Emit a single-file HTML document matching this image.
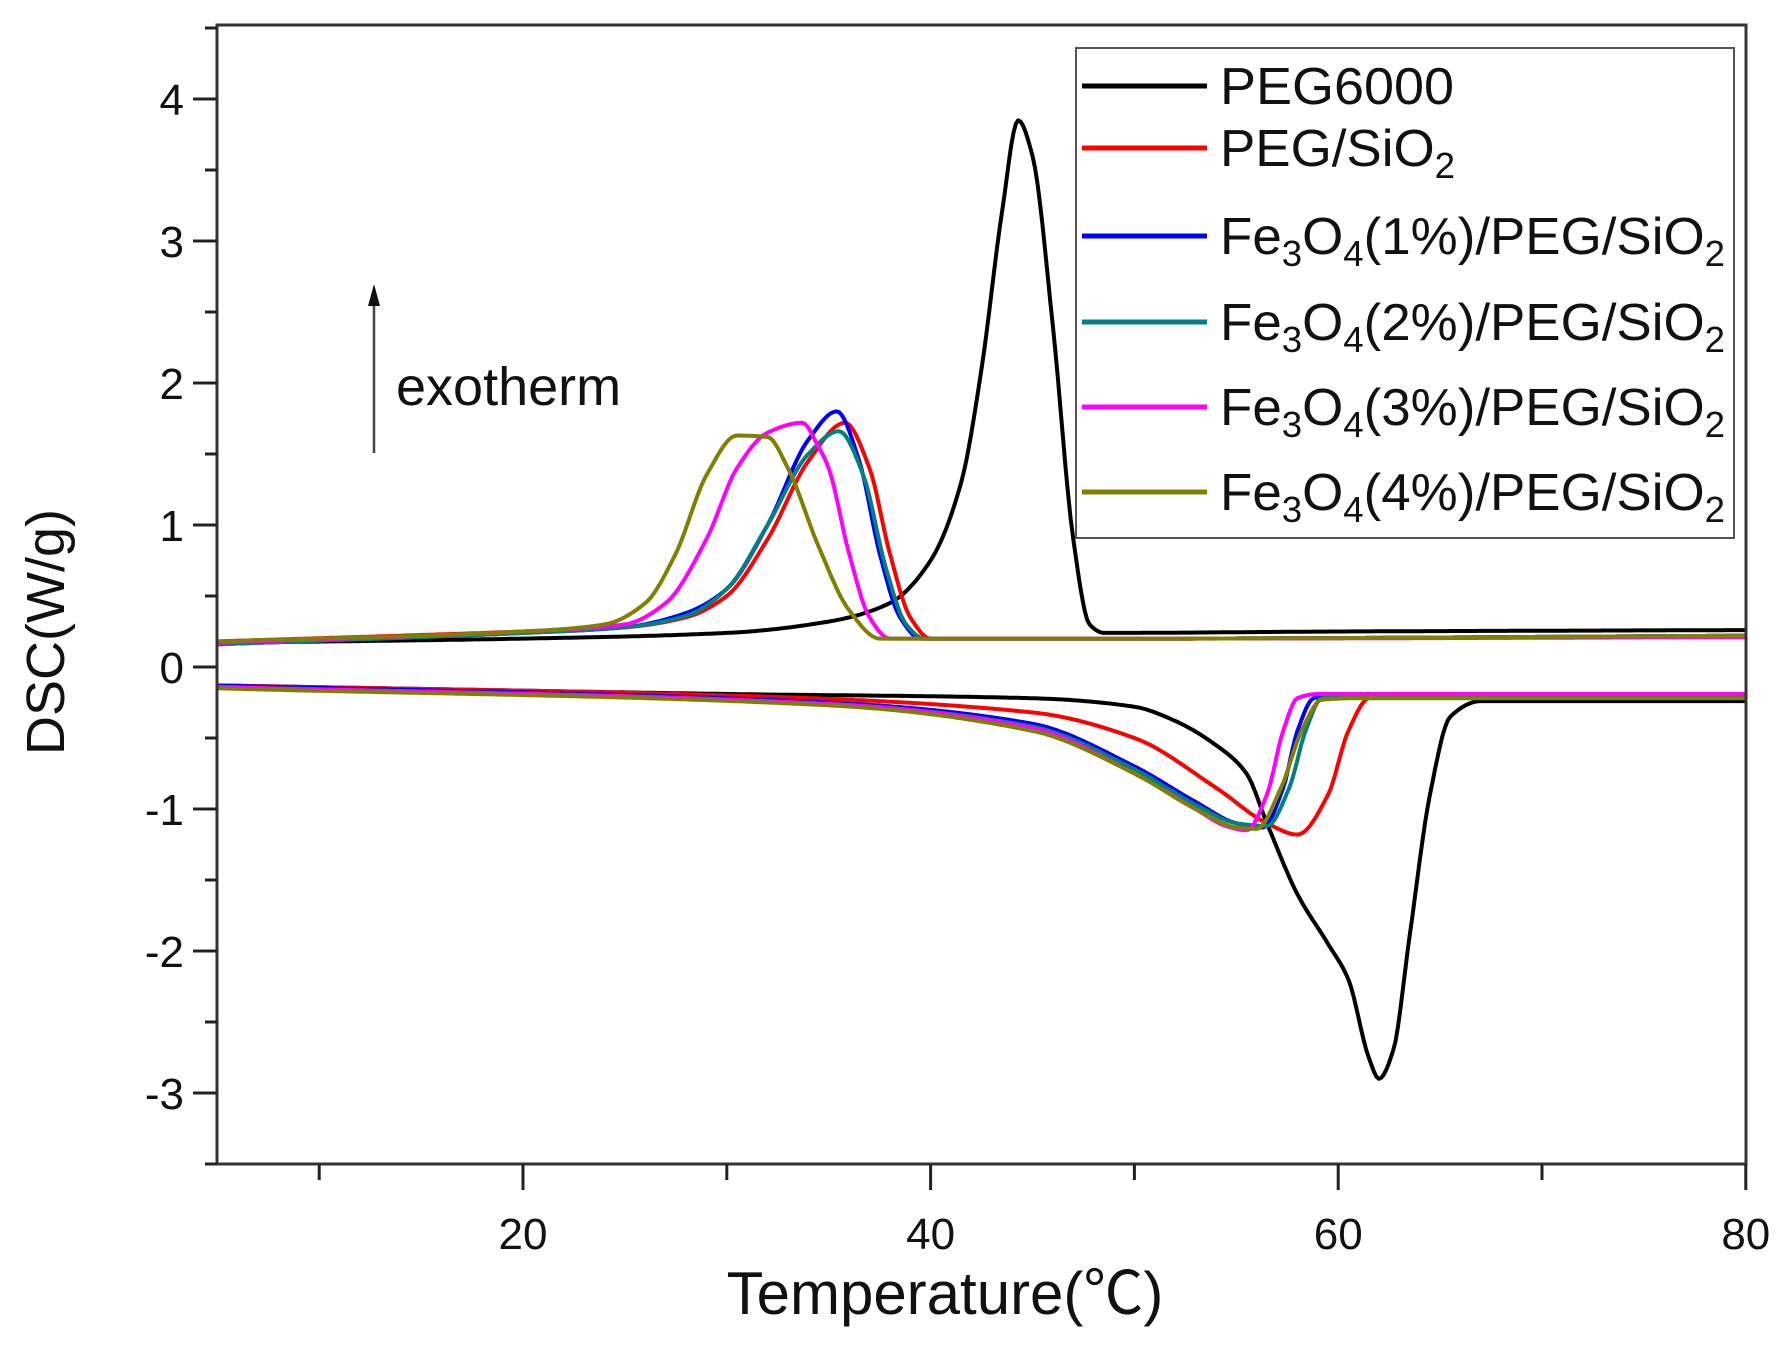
<!DOCTYPE html>
<html><head><meta charset="utf-8"><style>
html,body{margin:0;padding:0;background:#fff;}
svg{display:block;font-family:"Liberation Sans","Noto Sans CJK SC",sans-serif;}
</style></head><body>
<svg id="s" width="1781" height="1348" viewBox="0 0 1781 1348" xmlns="http://www.w3.org/2000/svg">
<rect width="1781" height="1348" fill="#fff"/>
<g id="curves" fill="none" stroke-width="4" stroke-linejoin="round"></g>
<rect x="217" y="25" width="1529" height="1139" fill="none" stroke="#333" stroke-width="3"/>
<g id="ticks" stroke="#222" stroke-width="3"></g>
<g font-size="44" fill="#111" id="labels"></g>
<text x="945" y="1314" font-size="60" text-anchor="middle" fill="#111">Temperature(℃)</text>
<text transform="translate(64,632) rotate(-90)" font-size="54" text-anchor="middle" fill="#111">DSC(W/g)</text>
<line x1="374" y1="453" x2="374" y2="300" stroke="#444" stroke-width="2.5"/>
<polygon points="374,284 368,306 380,306" fill="#111"/>
<text x="396" y="405" font-size="54" fill="#111">exotherm</text>
<rect x="1076" y="48" width="658" height="490" fill="#fff" stroke="#555" stroke-width="2"/>
<g id="legend" font-size="52" fill="#111"></g>
</svg>
<script>
var X=function(t){return 523+(t-20)*20.38;}, Y=function(v){return 667-v*142;};
function path(pts){var n=pts.length,xs=pts.map(function(a){return a[0]}),ys=pts.map(function(a){return a[1]});
var d=[],m=[];for(var i=0;i<n-1;i++)d.push((ys[i+1]-ys[i])/(xs[i+1]-xs[i]));
m[0]=d[0];m[n-1]=d[n-2];for(i=1;i<n-1;i++){if(d[i-1]*d[i]<=0)m[i]=0;else{var w1=2*(xs[i+1]-xs[i])+(xs[i]-xs[i-1]),w2=(xs[i+1]-xs[i])+2*(xs[i]-xs[i-1]);m[i]=(w1+w2)/(w1/d[i-1]+w2/d[i]);}}
var s="M"+X(xs[0]).toFixed(1)+","+Y(ys[0]).toFixed(1);
for(i=0;i<n-1;i++){var h=xs[i+1]-xs[i],N=Math.max(2,Math.ceil(h*8));for(var k=1;k<=N;k++){var t=k/N,t2=t*t,t3=t2*t;
var y=(2*t3-3*t2+1)*ys[i]+(t3-2*t2+t)*h*m[i]+(-2*t3+3*t2)*ys[i+1]+(t3-t2)*h*m[i+1];s+=" L"+X(xs[i]+h*t).toFixed(1)+","+Y(y).toFixed(1);}}
return s;}
var S=[
["#000",[[5,0.17],[20,0.2],[30,0.24],[35,0.32],[38,0.45],[40,0.75],[41.5,1.3],[42.5,2.1],[43.5,3.2],[44.3,3.85],[45,3.6],[46,2.4],[47,0.9],[47.8,0.3],[48.5,0.24],[60,0.25],[80,0.26]],
 [[5,-0.13],[30,-0.19],[45,-0.22],[50,-0.28],[52,-0.38],[54,-0.55],[55.5,-0.75],[56.5,-1.1],[58,-1.6],[59.5,-1.95],[60.5,-2.2],[61.5,-2.75],[62,-2.9],[62.7,-2.7],[63.5,-1.9],[64.5,-0.9],[65.5,-0.35],[67,-0.24],[80,-0.24]]],
["#f00",[[5,0.18],[20,0.25],[25,0.28],[28,0.35],[30,0.5],[32,0.9],[34,1.45],[35.8,1.72],[37,1.4],[38,0.8],[39,0.35],[40,0.2],[50,0.2],[80,0.22]],
 [[5,-0.13],[30,-0.2],[45,-0.32],[50,-0.5],[54,-0.85],[56.5,-1.1],[58,-1.18],[59.5,-0.9],[60.5,-0.45],[61.5,-0.22],[63,-0.2],[80,-0.2]]],
["#00f",[[5,0.16],[20,0.24],[25,0.28],[28,0.38],[30,0.55],[32,1.0],[34,1.6],[35.4,1.8],[36.5,1.45],[37.5,0.8],[38.5,0.35],[39.5,0.2],[50,0.2],[80,0.22]],
 [[5,-0.13],[35,-0.25],[45,-0.4],[50,-0.7],[53,-0.95],[55,-1.1],[56.3,-1.13],[57.3,-0.85],[58,-0.45],[58.8,-0.22],[60,-0.2],[80,-0.2]]],
["#008080",[[5,0.16],[20,0.24],[25,0.28],[28,0.36],[30,0.55],[32,1.0],[34,1.5],[35.5,1.66],[36.7,1.35],[37.8,0.7],[38.8,0.3],[39.7,0.2],[50,0.2],[80,0.22]],
 [[5,-0.14],[35,-0.26],[45,-0.42],[50,-0.72],[53,-0.97],[55,-1.1],[56.5,-1.12],[57.6,-0.85],[58.4,-0.45],[59.2,-0.22],[60.5,-0.21],[80,-0.21]]],
["#f0f",[[5,0.17],[20,0.25],[25,0.3],[27,0.45],[29,0.9],[30.5,1.4],[32,1.65],[33.7,1.72],[34.5,1.55],[35,1.4],[36,0.8],[37,0.35],[38,0.2],[50,0.2],[80,0.21]],
 [[5,-0.14],[35,-0.26],[45,-0.43],[50,-0.75],[53,-1.0],[54.5,-1.12],[55.5,-1.15],[56.5,-0.9],[57.3,-0.45],[58,-0.22],[59,-0.19],[80,-0.19]]],
["#808000",[[5,0.18],[20,0.25],[24,0.3],[26,0.45],[27.5,0.8],[29,1.35],[30.5,1.63],[32,1.62],[33,1.4],[34.5,0.85],[36,0.4],[37.5,0.2],[50,0.2],[80,0.22]],
 [[5,-0.15],[35,-0.27],[45,-0.45],[50,-0.75],[53,-1.0],[55,-1.13],[56,-1.14],[57.2,-0.85],[58.2,-0.45],[59.2,-0.23],[61,-0.22],[80,-0.22]]]];
var g=document.getElementById("curves"),h="";
S.forEach(function(s){h+='<path stroke="'+s[0]+'" d="'+path(s[1])+'"/><path stroke="'+s[0]+'" d="'+path(s[2])+'"/>';});
g.innerHTML=h;
var t="",l="";
for(var v=-3.5;v<=4.5;v+=0.5){var y=Y(v),maj=Math.abs(v-Math.round(v))<0.01;t+='<line x1="'+(maj?193:205)+'" y1="'+y+'" x2="217" y2="'+y+'"/>';
 if(maj&&v>-3.5)l+='<text x="184" y="'+(y+16)+'" text-anchor="end">'+Math.round(v)+'</text>';}
for(var x=10;x<=80;x+=10){var px=X(x),maj=x%20==0;t+='<line x1="'+px+'" y1="1164" x2="'+px+'" y2="'+(maj?1190:1180)+'"/>';
 if(maj)l+='<text x="'+px+'" y="1249" text-anchor="middle">'+x+'</text>';}
document.getElementById("ticks").innerHTML=t;document.getElementById("labels").innerHTML=l;
var L=[["#000","PEG6000",86],["#f00","PEG/SiO<tspan font-size=\"36\" dy=\"12\">2</tspan>",148],["#00f","",236],["#008080","",322],["#f0f","",407],["#808000","",492]];
var pc=["1%","2%","3%","4%"],lh="";
L.forEach(function(e,i){var txt=e[1];if(i>=2)txt='Fe<tspan font-size="36" dy="12">3</tspan><tspan dy="-12">O</tspan><tspan font-size="36" dy="12">4</tspan><tspan dy="-12">('+pc[i-2]+')/PEG/SiO</tspan><tspan font-size="36" dy="12">2</tspan>';
 lh+='<line x1="1082" y1="'+e[2]+'" x2="1207" y2="'+e[2]+'" stroke="'+e[0]+'" stroke-width="5"/><text x="1220" y="'+(e[2]+18)+'" textLength="'+(i>=2?505:(i==0?234:235))+'" lengthAdjust="spacingAndGlyphs">'+txt+'</text>';});
document.getElementById("legend").innerHTML=lh;
</script>
</body></html>
